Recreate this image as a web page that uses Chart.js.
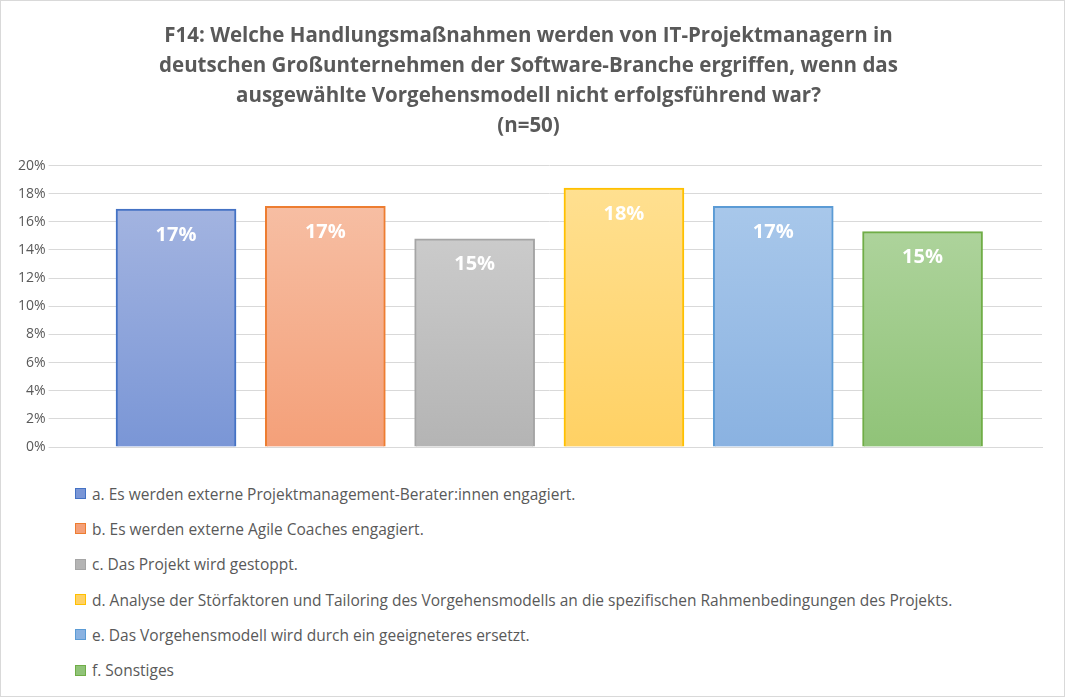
<!DOCTYPE html>
<html>
<head>
<meta charset="utf-8">
<script src="https://cdn.jsdelivr.net/npm/chart.js@4"></script>
<style>
  body { margin: 0; background: #fff; }
  #wrap { position: relative; width: 1063px; height: 695px; border: 1px solid #d9d9d9; font-family: "Open Sans", "Liberation Sans", sans-serif; }
  #chartBox { position: absolute; left: 0; top: 0; width: 1063px; height: 470px; }
  #legend { position: absolute; left: 74px; top: 475px; color: #595959; font-size: 15.5px; }
  .item { height: 35.3px; display: flex; align-items: center; }
  .box { width: 9px; height: 9px; margin-right: 6px; border: 1px solid; }
</style>
</head>
<body>
<div id="wrap">
  <div id="chartBox"><canvas id="chart"></canvas></div>
  <div id="legend"></div>
</div>
<script>
// Daten
const categories = [
    'a. Es werden externe Projektmanagement-Berater:innen engagiert.',
    'b. Es werden externe Agile Coaches engagiert.',
    'c. Das Projekt wird gestoppt.',
    'd. Analyse der Störfaktoren und Tailoring des Vorgehensmodells an die spezifischen Rahmenbedingungen des Projekts.',
    'e. Das Vorgehensmodell wird durch ein geeigneteres ersetzt.',
    'f. Sonstiges'
];
const positions = [0, 1, 2, 3, 4, 5];
const values = [16.9, 17.1, 14.8, 18.4, 17.1, 15.3];
const valueLabels = ['17%', '17%', '15%', '18%', '17%', '15%'];
const titleLines = [
    'F14: Welche Handlungsmaßnahmen werden von IT-Projektmanagern in',
    'deutschen Großunternehmen der Software-Branche ergriffen, wenn das',
    'ausgewählte Vorgehensmodell nicht erfolgsführend war?',
    '(n=50)'
];

// Farben (oben, unten, Rand)
const topColors = ['#aab9e2', '#f7c3aa', '#d3d3d3', '#ffe194', '#adcbec', '#b6d8a6'];
const bottomColors = ['#7a96d6', '#f4a079', '#b4b4b4', '#ffd164', '#8ab2e1', '#90c378'];
const borderColors = ['#4472c4', '#ed7d31', '#a5a5a5', '#ffc000', '#5b9bd5', '#70ad47'];

// Legende
const legend = document.getElementById('legend');
categories.forEach((c, i) => {
    const row = document.createElement('div');
    row.className = 'item';
    row.innerHTML = '<span class="box" style="background:' + bottomColors[i] + ';border-color:' + borderColors[i] + '"></span>' + c;
    legend.appendChild(row);
});

const valueLabelPlugin = {
    id: 'valueLabels',
    afterDatasetsDraw(chart) {
        const ctx = chart.ctx;
        const meta = chart.getDatasetMeta(0);
        ctx.save();
        ctx.fillStyle = '#ffffff';
        ctx.font = 'bold 20px "Open Sans", "Liberation Sans", sans-serif';
        ctx.textAlign = 'center';
        ctx.textBaseline = 'middle';
        meta.data.forEach((bar, i) => {
            ctx.fillText(valueLabels[i], bar.x, bar.y + 26);
        });
        ctx.restore();
    }
};

new Chart(document.getElementById('chart'), {
    type: 'bar',
    data: {
        datasets: [{
            data: positions.map((p, i) => ({ x: p, y: values[i] })),
            backgroundColor(context) {
                const chart = context.chart;
                const area = chart.chartArea;
                if (!area) return bottomColors[context.dataIndex];
                const g = chart.ctx.createLinearGradient(0, area.top, 0, area.bottom);
                g.addColorStop(0, topColors[context.dataIndex]);
                g.addColorStop(1, bottomColors[context.dataIndex]);
                return g;
            },
            borderColor: borderColors,
            borderWidth: 2,
            barThickness: 120
        }]
    },
    options: {
        responsive: true,
        maintainAspectRatio: false,
        animation: false,
        layout: { padding: { left: 14, right: 22, top: 8, bottom: 16 } },
        plugins: {
            legend: { display: false },
            tooltip: { enabled: false },
            title: {
                display: true,
                text: titleLines,
                color: '#595959',
                font: { size: 20.5, weight: 'bold', family: '"Open Sans", "Liberation Sans", sans-serif', lineHeight: 1.47 },
                padding: { top: 12, bottom: 24 }
            }
        },
        scales: {
            x: {
                type: 'linear',
                min: -0.8,
                max: 5.8,
                offset: false,
                ticks: { display: false },
                grid: { display: false },
                border: { color: '#d9d9d9' }
            },
            y: {
                min: 0,
                max: 20,
                ticks: {
                    stepSize: 2,
                    color: '#595959',
                    font: { size: 14, family: '"Open Sans", "Liberation Sans", sans-serif' },
                    callback: v => v + '%'
                },
                grid: { color: '#d9d9d9' },
                border: { display: false }
            }
        }
    },
    plugins: [valueLabelPlugin]
});
</script>
</body>
</html>
